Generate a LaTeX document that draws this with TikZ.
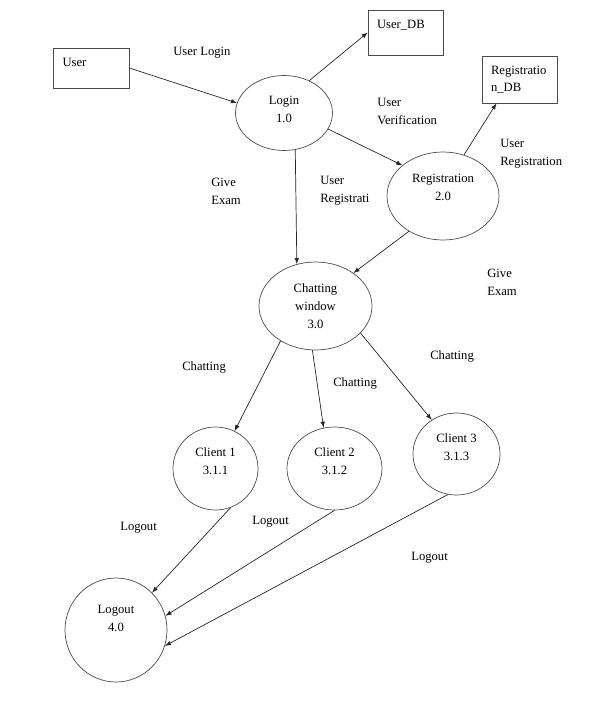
\documentclass[tikz,border=0pt]{standalone}
\usepackage{fontspec}
\setmainfont{Liberation Serif}
\usetikzlibrary{shapes, arrows, positioning}

\begin{document}
\begin{tikzpicture}[
    >=latex,
    every node/.style={font=\fontsize{9}{12.8}\selectfont},
    process/.style={ellipse, draw=black!70, line width=0.5pt, inner sep=0pt, align=center},
    store/.style={rectangle, draw=black!70, line width=0.5pt, minimum width=1.875cm,
        text width=1.425cm, inner xsep=0.225cm, inner ysep=0.2cm, text height=0.25cm, align=left},
    flow/.style={->, draw=black!85, line width=0.5pt},
    flowlabel/.style={anchor=west, inner sep=0pt, align=left},
]
\useasboundingbox (0,0) rectangle (14.925,-17.6);

% =========================================================
% 1. Entities and data stores
% =========================================================
\node[store, minimum width=1.9cm, text depth=0.35cm] (user) at (2.275,-1.7) {User};
\node[store, text depth=0.475cm] (userdb) at (10.1375,-0.8125) {User\_DB};
\node[store, text depth=0.525cm] (regdb) at (12.9875,-1.9875) {Registratio\\n\_DB};

% =========================================================
% 2. Processes (text sits a little above the middle)
% =========================================================
\node[process, minimum width=2.425cm, minimum height=1.875cm, text depth=0.2cm] (login) at (7.1,-2.825) {Login\\1.0};
\node[process, minimum width=2.8cm, minimum height=2.2cm, text depth=0.42cm] (reg) at (11.075,-4.9) {Registration\\2.0};
\node[process, minimum width=2.825cm, minimum height=2.2cm] (chat) at (7.8875,-7.65) {Chatting\\window\\3.0};

% Clients
\node[process, minimum width=2.125cm, minimum height=2.075cm, text depth=0.35cm] (client1) at (5.3875,-11.7125) {Client 1\\3.1.1};
\node[process, minimum width=2.375cm, minimum height=2.075cm, text depth=0.35cm] (client2) at (8.3625,-11.7125) {Client 2\\3.1.2};
\node[process, minimum width=2.175cm, minimum height=2.05cm, text depth=0.32cm] (client3) at (11.4125,-11.35) {Client 3\\3.1.3};

% Logout
\node[process, minimum width=2.55cm, minimum height=2.6cm, text depth=0.6cm] (logout) at (2.9,-15.75) {Logout\\4.0};

% =========================================================
% 3. Data flows
% =========================================================
\draw[flow] (user.east) -- (login.168);
\draw[flow] (login.52) -- (userdb.west);
\draw[flow] (login.340) -- (reg.143);
\draw[flow] (reg.63) -- (regdb.226);
\draw[flow] (login.287) -- (chat.114);
\draw[flow] (reg.226) -- (chat.41);

% Chatting -> clients
\draw[flow] (chat.225) -- (client1.63);
\draw[flow] (chat.266) -- (client2.105);
\draw[flow] (chat.329) -- (client3.126);

% Clients -> logout
\draw[flow] (client1.291) -- (logout.46);
\draw[flow] (client2.270) -- (logout.16);
\draw[flow] (client3.258) -- (logout.342);

% =========================================================
% 4. Flow labels
% =========================================================
\node[flowlabel] (lbl_login) at (4.325,-1.325) {User Login};
\node[flowlabel] (lbl_verif) at (9.425,-2.775) {User\\Verification};
\node[flowlabel] (lbl_regdb) at (12.5,-3.85) {User\\Registration};
\node[flowlabel] (lbl_regchat) at (8.0,-4.775) {User\\Registrati};
\node[flowlabel] (lbl_exam1) at (5.275,-4.775) {Give\\Exam};
\node[flowlabel] (lbl_exam2) at (12.175,-7.05) {Give\\Exam};

\node[flowlabel] (lbl_chat1) at (4.55,-9.175) {Chatting};
\node[flowlabel] (lbl_chat2) at (8.325,-9.575) {Chatting};
\node[flowlabel] (lbl_chat3) at (10.75,-8.9) {Chatting};

\node[flowlabel] (lbl_out1) at (3.0,-13.2) {Logout};
\node[flowlabel] (lbl_out2) at (6.3,-13.05) {Logout};
\node[flowlabel] (lbl_out3) at (10.275,-13.95) {Logout};

\end{tikzpicture}
\end{document}
